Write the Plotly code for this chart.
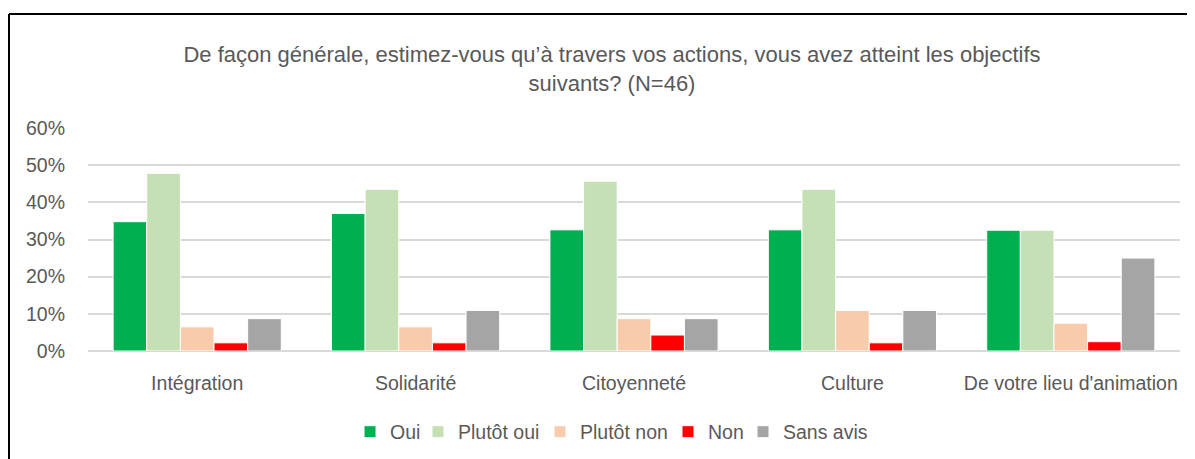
import plotly.graph_objects as go

categories = ["Intégration", "Solidarité", "Citoyenneté", "Culture", "De votre lieu d'animation"]
series_names = ["Oui", "Plutôt oui", "Plutôt non", "Non", "Sans avis"]
oui = [0.348, 0.370, 0.326, 0.326, 0.325]
plutot_oui = [0.478, 0.435, 0.457, 0.435, 0.325]
plutot_non = [0.065, 0.065, 0.087, 0.109, 0.075]
non = [0.022, 0.022, 0.043, 0.022, 0.025]
sans_avis = [0.087, 0.109, 0.087, 0.109, 0.250]
colors = ["#00B050", "#C5E0B4", "#F8CBAD", "#FF0000", "#A5A5A5"]
tick_vals = [0, 0.1, 0.2, 0.3, 0.4, 0.5, 0.6]
tick_text = ["0%", "10%", "20%", "30%", "40%", "50%", "60%"]

FONT = "Liberation Sans, Arial, sans-serif"
GREY = "#595959"
FS = 19.5

# page body has an 8px margin: figure is drawn 8px right/down
OFF = 8
W, H = 1195 - OFF, 459 - OFF
ml, mr, mt, mb = 80, 15, 120, 108
pw, ph = W - ml - mr, H - mt - mb

def px(sx):
    return (sx - OFF - ml) / pw

def py(sy):
    return (H - mb - (sy - OFF)) / ph

# screen x of each legend square (left edge)
legend_sq_x = [364, 432, 554, 682, 757]
SQ_OFFSET = 14  # distance from legend left edge to square left edge

fig = go.Figure()
legend_layouts = {}
for i, (name, vals, col) in enumerate(zip(series_names, [oui, plutot_oui, plutot_non, non, sans_avis], colors)):
    lname = "legend" if i == 0 else f"legend{i+1}"
    fig.add_trace(go.Bar(x=categories, y=vals, name=name, legend=lname,
                         marker=dict(color=col, line=dict(color="white", width=1))))
    legend_layouts[lname] = dict(
        orientation="h", x=px(legend_sq_x[i] - SQ_OFFSET), xanchor="left",
        y=py(432), yanchor="middle", bgcolor="rgba(0,0,0,0)",
        font=dict(family=FONT, color=GREY, size=FS), itemwidth=30,
    )

fig.update_layout(
    width=W, height=H,
    margin=dict(l=ml, r=mr, t=mt, b=mb, pad=0, autoexpand=False),
    paper_bgcolor="white", plot_bgcolor="white",
    barmode="group", bargap=0.23, bargroupgap=0,
    font=dict(family=FONT, color=GREY, size=FS),
    title=dict(text="De façon générale, estimez-vous qu’à travers vos actions, vous avez atteint les objectifs<br>suivants? (N=46)",
               x=px(612), xanchor="center", xref="paper", y=1 - (62 - OFF) / H, yanchor="middle",
               font=dict(family=FONT, color=GREY, size=22)),
    showlegend=True,
    yaxis=dict(range=[0, 0.6], tickvals=tick_vals, ticktext=tick_text, showgrid=True,
               gridcolor="#D9D9D9", gridwidth=1.5, zeroline=True, zerolinecolor="#D9D9D9",
               zerolinewidth=1.5, showline=False, ticks="", ticklabelstandoff=22,
               tickfont=dict(family=FONT, color=GREY, size=FS)),
    xaxis=dict(showline=False, ticks="", ticklabelstandoff=18,
               tickfont=dict(family=FONT, color=GREY, size=FS)),
    shapes=[
        dict(type="line", xref="paper", yref="paper", x0=px(9), x1=px(1200), y0=py(14), y1=py(14),
             line=dict(color="black", width=2)),
        dict(type="line", xref="paper", yref="paper", x0=px(9), x1=px(9), y0=py(14), y1=py(470),
             line=dict(color="black", width=2)),
    ],
    **legend_layouts,
)

fig.write_html("out.html")
